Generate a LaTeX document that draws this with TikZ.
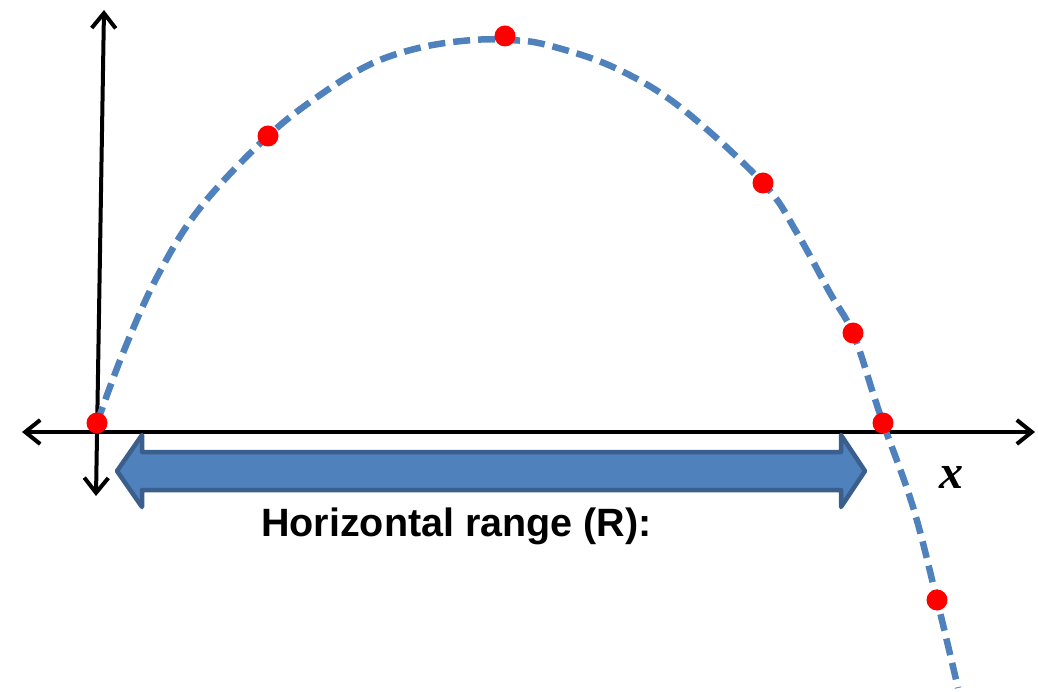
\documentclass[tikz,border=0pt]{standalone}
\usepackage{fontspec}
\setmainfont{Liberation Serif}
\newfontfamily\labelfont{Liberation Sans}
\usetikzlibrary{arrows.meta}
\definecolor{curveblue}{HTML}{4F81BD}
\definecolor{arrowedge}{HTML}{3A5F8C}
\definecolor{dotred}{HTML}{FF0000}
\tikzset{
  axisline/.style={line width=4pt, black, {Straight Barb[length=15pt,width=24pt,line width=4pt]}-{Straight Barb[length=15pt,width=24pt,line width=4pt]}, line cap=round},
  trajectory/.style={line width=6.5pt, curveblue, dash pattern=on 17pt off 8pt},
  reddot/.style={circle, fill=dotred, inner sep=0pt, minimum size=21pt},
  rangearrow/.style={fill=curveblue, draw=arrowedge, line width=4.5pt, line join=round},
}
\begin{document}
\begin{tikzpicture}[x=1pt,y=-1pt]
\useasboundingbox (0,0) rectangle (1038,692);
% axes
\coordinate (xl) at (22,432);
\coordinate (xr) at (1035,432);
\coordinate (yt) at (104,10);
\coordinate (yb) at (96,496);
\draw[axisline] (xl) -- (xr);
\draw[axisline] (yb) -- (yt);
% trajectory
\draw[trajectory] plot[smooth, tension=0.6] coordinates {
 (97,423) (123,353) (157,277) (200,208) (268,136) (323,93) (373,63)
 (423,47) (473,40) (510,40) (547,45) (613,67) (680,107) (763,183)
 (797,233) (830,293) (853,333) (873,393) (883,423) (913,507) (937,600) (958,688)};
% range arrow
\path[rangearrow] (117,471) -- (142,435) -- (142,452) -- (841,452) -- (841,435)
  -- (865,471) -- (841,507) -- (841,490) -- (142,490) -- (142,507) -- cycle;
% dots
\node[reddot] (p0) at (97,423) {};
\node[reddot] (p1) at (268,136) {};
\node[reddot] (p2) at (505,36) {};
\node[reddot] (p3) at (763,183) {};
\node[reddot] (p4) at (853,333) {};
\node[reddot] (p5) at (883,423) {};
\node[reddot] (p6) at (937,600) {};
% labels
\node[anchor=base west, inner sep=0pt] (xlab) at (939,488) {\fontsize{48}{52}\selectfont\bfseries\itshape x};
\node[anchor=base west, inner sep=0pt] (rlab) at (261,536) {\labelfont\fontsize{39.5}{44}\selectfont\bfseries Horizontal range (R):};
\end{tikzpicture}
\end{document}
